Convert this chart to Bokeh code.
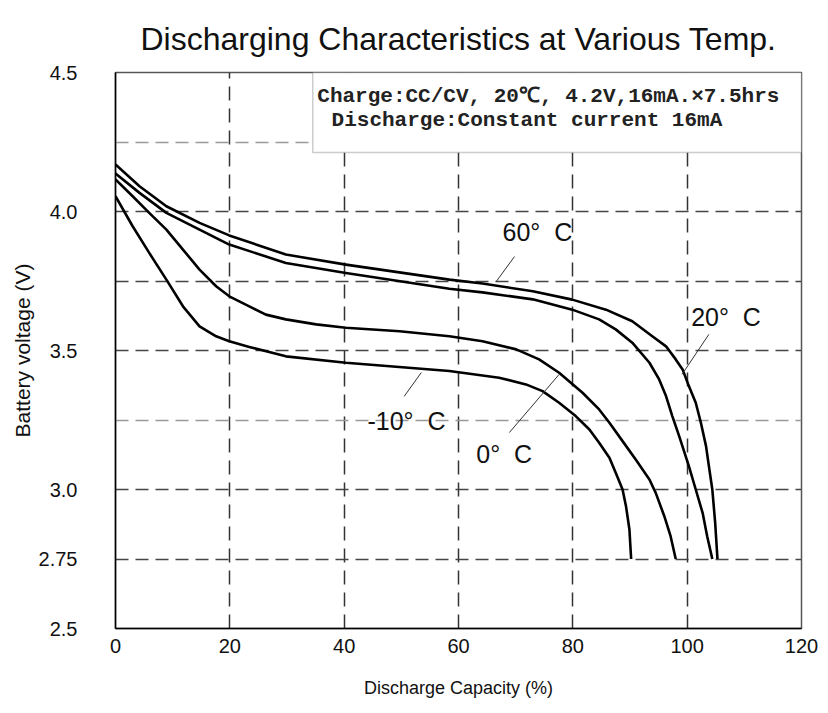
from bokeh.plotting import figure
from bokeh.models import (Range1d, FixedTicker, Grid, BoxAnnotation, Label,
                          CustomJSTickFormatter)
from bokeh.embed import file_html
from bokeh.resources import INLINE

# ---- data ----
x_60 = [0, 4.2, 8.9, 14.7, 19.9, 29.8, 40.3, 58.4, 64.2, 73.0, 79.9, 85.8, 90.4, 93.9, 96.3, 98.0,
        99.2, 100.3, 101.5, 102.4, 103.3, 103.8, 104.4, 104.9, 105.3]
v_60 = [4.169, 4.091, 4.019, 3.959, 3.914, 3.845, 3.809, 3.755, 3.741, 3.713, 3.683, 3.647, 3.605, 3.551, 3.515, 3.468,
        3.432, 3.372, 3.312, 3.240, 3.156, 3.084, 3.0, 2.880, 2.75]

x_20 = [0, 4.2, 8.9, 14.7, 19.9, 29.8, 40.3, 58.4, 64.2, 73.0, 79.9, 84.6, 87.5, 90.4, 93.4, 95.1, 96.3,
        97.4, 98.6, 100.3, 101.5, 102.7, 103.5, 104.4]
v_20 = [4.137, 4.067, 3.995, 3.935, 3.881, 3.815, 3.779, 3.722, 3.709, 3.684, 3.647, 3.612, 3.576, 3.528, 3.456, 3.396, 3.336,
        3.264, 3.192, 3.084, 3.0, 2.916, 2.832, 2.75]

x_0 = [0, 3.0, 5.9, 8.9, 11.8, 14.7, 17.6, 19.9, 23.4, 26.3, 29.8, 35.1, 40.3, 49.7, 58.4, 64.2, 70.1, 74.1, 77.6,
       81.7, 84.6, 86.4, 88.7, 91.0, 93.4, 94.5, 96.0, 97.1, 98.0]
v_0 = [4.115, 4.055, 3.995, 3.935, 3.863, 3.791, 3.731, 3.695, 3.659, 3.629, 3.612, 3.594, 3.582, 3.569, 3.551, 3.533, 3.504, 3.468, 3.420,
       3.348, 3.288, 3.240, 3.174, 3.108, 3.036, 2.988, 2.904, 2.832, 2.75]

x_m10 = [0, 3.0, 5.9, 8.9, 11.8, 14.7, 17.6, 19.9, 23.4, 29.8, 40.3, 58.4, 67.1, 71.8, 74.7, 77.6, 80.5, 82.9,
         84.6, 86.4, 87.5, 88.7, 89.3, 89.9, 90.2]
v_m10 = [4.055, 3.947, 3.851, 3.755, 3.659, 3.587, 3.551, 3.533, 3.513, 3.479, 3.456, 3.426, 3.402, 3.378, 3.354, 3.312, 3.264, 3.216,
         3.168, 3.114, 3.060, 3.0, 2.940, 2.856, 2.75]

x_ticks = [0, 20, 40, 60, 80, 100, 120]
y_ticks = [2.5, 2.75, 3.0, 3.5, 4.0, 4.5]
y_grid_dark = [2.75, 3.0, 3.5, 3.75, 4.0]
y_grid_light = [3.25, 4.25]
x_grid = [20, 40, 60, 80, 100]

title_text = "Discharging Characteristics at Various Temp."
x_label = "Discharge Capacity (%)"
y_label = "Battery voltage (V)"
note_line1 = "Charge:CC/CV, 20\u2103, 4.2V,16mA.\u00d77.5hrs"
note_line2 = "Discharge:Constant current 16mA"
curve_labels = ["60\u00b0\u00a0\u00a0C", "20\u00b0\u00a0\u00a0C", "-10\u00b0\u00a0\u00a0C", "0\u00b0\u00a0\u00a0C"]

SANS = "Liberation Sans"
MONO = "Liberation Mono"

p = figure(frame_width=686, frame_height=556,
           x_range=Range1d(0, 120), y_range=Range1d(2.5, 4.5),
           output_backend="svg", toolbar_location=None,
           min_border_left=115, min_border_right=18,
           min_border_top=72, min_border_bottom=76,
           title=title_text)

p.title.text_font = SANS
p.title.text_font_size = "32px"
p.title.text_font_style = "normal"
p.title.align = "center"
p.title.text_color = "#111111"
p.title.standoff = 32

p.background_fill_color = "white"
p.border_fill_color = "white"
p.outline_line_color = "#555555"
p.outline_line_width = 1.5

# axes
p.xaxis.ticker = FixedTicker(ticks=x_ticks)
p.yaxis.ticker = FixedTicker(ticks=y_ticks)
p.yaxis.formatter = CustomJSTickFormatter(code="return (Math.abs(tick-2.75)<1e-6) ? '2.75' : tick.toFixed(1);")
for ax in (p.xaxis, p.yaxis):
    ax.major_tick_in = 0
    ax.major_tick_out = 0
    ax.minor_tick_in = 0
    ax.minor_tick_out = 0
    ax.axis_line_color = "black"
    ax.axis_line_width = 1.5
    ax.major_label_text_font = SANS
    ax.major_label_text_font_size = "20px"
    ax.major_label_text_color = "#111111"
    ax.axis_label_text_font = SANS
    ax.axis_label_text_font_style = "normal"
    ax.axis_label_text_color = "#111111"
p.xaxis.axis_label = x_label
p.yaxis.axis_label = y_label
p.xaxis.axis_label_text_font_size = "18px"
p.yaxis.axis_label_text_font_size = "21px"
p.yaxis.major_label_standoff = 38
p.xaxis.major_label_standoff = 10
p.xaxis.axis_label_standoff = 22
p.yaxis.axis_label_standoff = 2

# grids
p.xgrid.visible = False
p.ygrid.visible = False
p.add_layout(Grid(dimension=0, ticker=FixedTicker(ticks=x_grid),
                  grid_line_color="#333333", grid_line_width=1.5, grid_line_dash="14 8"))
p.add_layout(Grid(dimension=1, ticker=FixedTicker(ticks=y_grid_dark),
                  grid_line_color="#444444", grid_line_width=1.5, grid_line_dash="13 7"))
p.add_layout(Grid(dimension=1, ticker=FixedTicker(ticks=y_grid_light),
                  grid_line_color="#999999", grid_line_width=1.5, grid_line_dash="13 7"))

# curves
for xs, vs in ((x_60, v_60), (x_20, v_20), (x_0, v_0), (x_m10, v_m10)):
    p.line(xs, vs, line_color="black", line_width=2.6, line_join="round")

# leader lines
p.segment(x0=[69.8, 103.8, 53.5, 77.6], y0=[3.838, 3.558, 3.421, 3.414],
          x1=[66.6, 99.1, 50.5, 68.9], y1=[3.748, 3.414, 3.335, 3.205],
          line_color="#333333", line_width=1)

# curve labels
for txt, lx, ly in zip(curve_labels, [73.8, 106.8, 50.9, 68.0], [3.928, 3.619, 3.245, 3.126]):
    p.add_layout(Label(x=lx, y=ly, text=txt, text_align="center", text_baseline="middle",
                       text_font=SANS, text_font_size="25px", text_color="#111111"))

# note box
p.add_layout(BoxAnnotation(left=34.5, right=120, bottom=4.212, top=4.5,
                           fill_color="white", fill_alpha=1.0,
                           line_color="#555555", line_width=1.5))
p.add_layout(Label(x=35.3, y=4.414, text=note_line1, text_align="left", text_baseline="middle",
                   text_font=MONO, text_font_size="21px", text_font_style="bold", text_color="#222222"))
p.add_layout(Label(x=37.8, y=4.326, text=note_line2, text_align="left", text_baseline="middle",
                   text_font=MONO, text_font_size="21px", text_font_style="bold", text_color="#222222"))

open("out.html", "w").write(file_html(p, INLINE))
